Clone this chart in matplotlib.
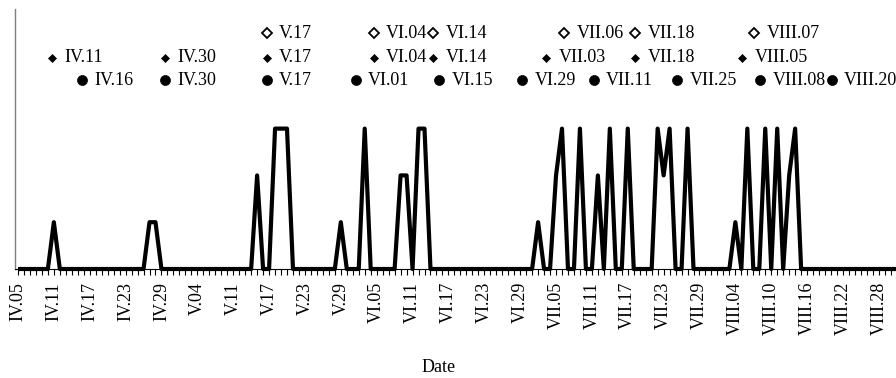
import matplotlib
matplotlib.use("Agg")
import matplotlib.pyplot as plt
from matplotlib.ticker import FixedLocator

plt.rcParams['font.family'] = ['Liberation Serif', 'DejaVu Serif']

# ---- data -------------------------------------------------------------
# daily values, category 0 = IV.05
values = [0, 0, 0, 0, 0, 0, 1, 0, 0, 0,      # 0-9
          0, 0, 0, 0, 0, 0, 0, 0, 0, 0,      # 10-19
          0, 0, 1, 1, 0, 0, 0, 0, 0, 0,      # 20-29
          0, 0, 0, 0, 0, 0, 0, 0, 0, 0,      # 30-39
          2, 0, 0, 3, 3, 3, 0, 0, 0, 0,      # 40-49
          0, 0, 0, 0, 1, 0, 0, 0, 3, 0,      # 50-59
          0, 0, 0, 0, 2, 2, 0, 3, 3, 0,      # 60-69
          0, 0, 0, 0, 0, 0, 0, 0, 0, 0,      # 70-79
          0, 0, 0, 0, 0, 0, 0, 1, 0, 0,      # 80-89
          2, 3, 0, 0, 3, 0, 0, 2, 0, 3,      # 90-99
          0, 0, 3, 0, 0, 0, 0, 3, 2, 3,      # 100-109
          0, 0, 3, 0, 0, 0, 0, 0, 0, 0,      # 110-119
          1, 0, 3, 0, 0, 3, 0, 3, 0, 2,      # 120-129
          3, 0, 0, 0, 0, 0, 0, 0, 0, 0,      # 130-139
          0, 0, 0, 0, 0, 0, 0, 0]            # 140-147

tick_labels = ["IV.05", "IV.11", "IV.17", "IV.23", "IV.29", "V.04", "V.11",
               "V.17", "V.23", "V.29", "VI.05", "VI.11", "VI.17", "VI.23",
               "VI.29", "VII.05", "VII.11", "VII.17", "VII.23", "VII.29",
               "VIII.04", "VIII.10", "VIII.16", "VIII.22", "VIII.28"]
label_every = 6

dates_open_diamond = ["V.17", "VI.04", "VI.14", "VII.06", "VII.18", "VIII.07"]
dates_small_diamond = ["IV.11", "IV.30", "V.17", "VI.04", "VI.14", "VII.03",
                       "VII.18", "VIII.05"]
dates_dot = ["IV.16", "IV.30", "V.17", "VI.01", "VI.15", "VI.29", "VII.11",
             "VII.25", "VIII.08", "VIII.20"]

x_title = "Date"

# day offset of the first day of each month relative to IV.05
month_start = {"IV": -4, "V": 26, "VI": 57, "VII": 87, "VIII": 118}


def day_index(s):
    m, d = s.split(".")
    return month_start[m] + int(d) - 1


# ---- figure -----------------------------------------------------------
W, H = 896, 378
fig = plt.figure(figsize=(W / 100, H / 100), dpi=100)
ax_left, ax_right, ax_top, ax_bot = 15, 896, 9, 269
ax = fig.add_axes([ax_left / W, 1 - ax_bot / H,
                   (ax_right - ax_left) / W, (ax_bot - ax_top) / H])

xs = list(range(len(values)))
ax.plot(xs, values, color="black", lw=3.0, solid_joinstyle="round",
        solid_capstyle="butt", clip_on=False, zorder=3)

ax.set_xlim(-0.5, 146.87)
ax.set_ylim(0, 5.556)

# ticks
ax.xaxis.set_major_locator(FixedLocator(list(range(0, len(values), label_every))[:len(tick_labels)]))
ax.set_xticklabels(tick_labels, rotation=90, fontsize=13)
ax.xaxis.set_minor_locator(FixedLocator(xs))
ax.tick_params(axis="x", which="both", direction="out", length=4.3,
               width=0.8, color="black", pad=5)
ax.set_yticks([])

for s in ("top", "right"):
    ax.spines[s].set_visible(False)
ax.spines["left"].set_color("#7f7f7f")
ax.spines["left"].set_linewidth(1.0)
ax.spines["bottom"].set_color("black")
ax.spines["bottom"].set_linewidth(0.8)

# marker rows (drawn on their own date scale)
ax2 = ax.twiny()
ax2.set_xlim(-0.27, 147.8)
ax2.axis("off")

rows = [
    (dates_open_diamond, 5.04, dict(marker="D", ms=5.2, mfc="white", mec="black", mew=1.3)),
    (dates_small_diamond, 4.51, dict(marker="D", ms=4.0, mfc="black", mec="black", mew=0.5)),
    (dates_dot, 4.03, dict(marker="o", ms=7.2, mfc="black", mec="black", mew=0.5)),
]
for dates, yv, style in rows:
    dx = [day_index(d) for d in dates]
    ax2.plot(dx, [yv] * len(dx), ls="none", clip_on=False, **style)
    for d, xv in zip(dates, dx):
        ax2.annotate(d, (xv, yv), xytext=(9, 0), textcoords="offset points",
                     ha="left", va="center", fontsize=13, annotation_clip=False)

fig.text(439 / W, 1 - 367 / H, x_title, ha="center", va="center", fontsize=13)

fig.savefig("out.png", dpi=100)
